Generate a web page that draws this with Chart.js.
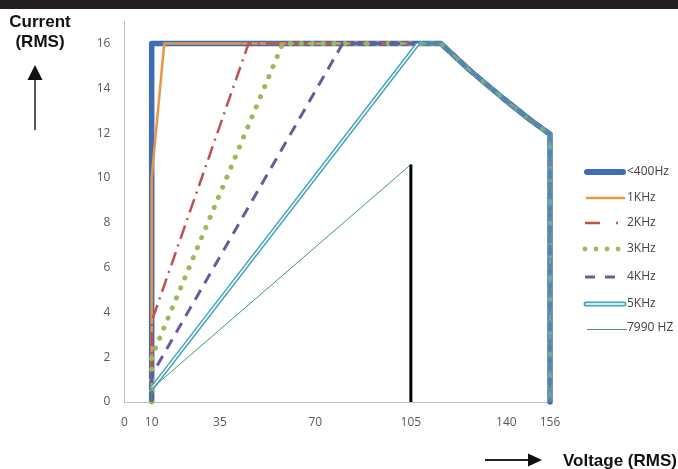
<!DOCTYPE html>
<html>
<head>
<meta charset="utf-8">
<script src="https://cdn.jsdelivr.net/npm/chart.js@4.4.1/dist/chart.umd.min.js"></script>
<style>
  html, body { margin: 0; padding: 0; background: #fff; }
  #wrap { width: 678px; height: 469px; position: relative; }
</style>
</head>
<body>
<div id="wrap"><canvas id="vcChart"></canvas></div>
<script>
// axis ticks
const voltTicks = [0, 10, 35, 70, 105, 140, 156];
const currTicks = [0, 2, 4, 6, 8, 10, 12, 14, 16];

// shared limit envelope (flat top end, power curve, drop at 156 V)
const envV = [116, 126.7, 138.9, 148.7, 156, 156];
const envI = [16, 14.8, 13.55, 12.6, 11.95, 0];

// rising part of each curve (voltage, current)
const hz400V = [10, 10];
const hz400I = [0, 16];
const k1V = [10, 10, 14.6];
const k1I = [0, 10, 16];
const k2V = [10, 10, 45.5];
const k2I = [0, 3.6, 16];
const k3V = [10, 10, 58];
const k3I = [0, 2, 16];
const k4V = [10, 10, 80];
const k4I = [0, 1.2, 16];
const k5V = [10, 107.6];
const k5I = [0.6, 16];
const hz7990V = [10, 10, 105];
const hz7990I = [0, 0.6, 10.6];
const limitV = [105, 105];
const limitI = [10.6, 0];

const seriesNames = ['<400Hz', '1KHz', '2KHz', '3KHz', '4KHz', '5KHz', '7990 HZ'];

function path(v, c) {
    return v.map((x, k) => ({ x: x, y: c[k] }));
}
function withEnv(v, c) {
    return path(v, c).concat(path(envV, envI));
}

const BLUE = '#3e6db3', ORANGE = '#e9964b', RED = '#c0504d', GREEN = '#9bbb59',
      PURPLE = '#6a5a9c', CYAN = '#46a5bd', TEAL = '#3d9a6a';

// listed bottom -> top
const sets = [
    { label: seriesNames[0], data: withEnv(hz400V, hz400I), borderColor: BLUE, borderWidth: 5.5, borderJoinStyle: 'round' },
    { label: seriesNames[1], data: withEnv(k1V, k1I), borderColor: ORANGE, borderWidth: 2.5 },
    { label: seriesNames[2], data: withEnv(k2V, k2I), borderColor: RED, borderWidth: 2.5, borderDash: [14, 6, 2, 6] },
    { label: seriesNames[3], data: withEnv(k3V, k3I), borderColor: GREEN, borderWidth: 5, borderDash: [0.1, 10.8], borderCapStyle: 'round' },
    { label: seriesNames[4], data: withEnv(k4V, k4I), borderColor: PURPLE, borderWidth: 3, borderDash: [11, 8] },
    { label: seriesNames[5], data: withEnv(k5V, k5I), borderColor: CYAN, borderWidth: 4.5,
      segment: { borderColor: ctx => ctx.p0DataIndex >= 1 ? 'rgba(70,165,189,0.55)' : CYAN } },
    { label: '5KHz inner', data: path(k5V, k5I), borderColor: '#ffffff', borderWidth: 1.5 },
    { label: seriesNames[6], data: path(hz7990V, hz7990I), borderColor: TEAL, borderWidth: 1 },
    { label: 'limit', data: path(limitV, limitI), borderColor: '#000000', borderWidth: 3 }
];
sets.forEach((s, i) => {
    s.showLine = true;
    s.pointRadius = 0;
    s.pointHoverRadius = 0;
    s.clip = false;
    s.fill = false;
    s.order = sets.length - i;
});

const decorPlugin = {
    id: 'decor',
    beforeDraw(chart) {
        const ctx = chart.ctx;
        ctx.save();
        ctx.fillStyle = '#231f20';
        ctx.fillRect(0, 0, chart.width, 9);
        ctx.restore();
    },
    afterDraw(chart) {
        const ctx = chart.ctx;
        ctx.save();
        // axis titles
        ctx.fillStyle = '#111';
        ctx.font = 'bold 17px "Liberation Sans", Arial, sans-serif';
        ctx.textAlign = 'center';
        ctx.textBaseline = 'alphabetic';
        ctx.fillText('Current', 40, 27);
        ctx.fillText('(RMS)', 40, 47);
        ctx.textAlign = 'left';
        ctx.fillText('Voltage (RMS)', 563, 466);

        // up arrow
        ctx.strokeStyle = '#222';
        ctx.fillStyle = '#111';
        ctx.lineWidth = 1.5;
        ctx.beginPath(); ctx.moveTo(35, 130); ctx.lineTo(35, 79); ctx.stroke();
        ctx.beginPath(); ctx.moveTo(35, 65); ctx.lineTo(42.5, 80); ctx.lineTo(27.5, 80); ctx.closePath(); ctx.fill();
        // right arrow
        ctx.lineWidth = 2;
        ctx.beginPath(); ctx.moveTo(485, 460); ctx.lineTo(530, 460); ctx.stroke();
        ctx.beginPath(); ctx.moveTo(542, 460); ctx.lineTo(528, 453.5); ctx.lineTo(528, 466.5); ctx.closePath(); ctx.fill();

        // legend
        const rows = [172, 198, 223, 249, 277, 304, 328];
        const x0 = 585, x1 = 625;
        ctx.lineCap = 'butt';
        rows.forEach((y, i) => {
            ctx.save();
            ctx.setLineDash([]);
            if (i === 0) {
                ctx.strokeStyle = BLUE; ctx.lineWidth = 6; ctx.lineCap = 'round';
                ctx.beginPath(); ctx.moveTo(x0 + 2, y); ctx.lineTo(x1 - 2, y); ctx.stroke();
            } else if (i === 1) {
                ctx.strokeStyle = ORANGE; ctx.lineWidth = 2.5;
                ctx.beginPath(); ctx.moveTo(x0 + 1, y); ctx.lineTo(x1, y); ctx.stroke();
            } else if (i === 2) {
                ctx.strokeStyle = RED; ctx.lineWidth = 2.5;
                ctx.beginPath(); ctx.moveTo(x0, y); ctx.lineTo(x0 + 15, y); ctx.stroke();
                ctx.beginPath(); ctx.moveTo(x0 + 31, y); ctx.lineTo(x0 + 33, y); ctx.stroke();
            } else if (i === 3) {
                ctx.fillStyle = GREEN;
                [585, 596, 607, 618].forEach(cx => {
                    ctx.beginPath(); ctx.arc(cx, y, 2.4, 0, Math.PI * 2); ctx.fill();
                });
            } else if (i === 4) {
                ctx.strokeStyle = PURPLE; ctx.lineWidth = 3;
                ctx.beginPath(); ctx.moveTo(x0, y); ctx.lineTo(x0 + 10, y); ctx.stroke();
                ctx.beginPath(); ctx.moveTo(x0 + 20, y); ctx.lineTo(x0 + 30, y); ctx.stroke();
            } else if (i === 5) {
                ctx.strokeStyle = CYAN; ctx.lineWidth = 5; ctx.lineCap = 'round';
                ctx.beginPath(); ctx.moveTo(x0 + 1, y); ctx.lineTo(x1 - 1, y); ctx.stroke();
                ctx.strokeStyle = '#fff'; ctx.lineWidth = 1.5;
                ctx.beginPath(); ctx.moveTo(x0 + 1, y); ctx.lineTo(x1 - 1, y); ctx.stroke();
            } else {
                ctx.strokeStyle = TEAL; ctx.lineWidth = 1;
                ctx.beginPath(); ctx.moveTo(x0 + 2, y + 1.5); ctx.lineTo(x1 + 2, y + 1.5); ctx.stroke();
            }
            ctx.restore();
            ctx.fillStyle = '#404040';
            ctx.font = '12px "Open Sans", sans-serif';
            ctx.textAlign = 'left';
            ctx.textBaseline = 'middle';
            ctx.fillText(seriesNames[i], 627, y);
        });
        ctx.restore();
    }
};

const tickFont = { family: 'Open Sans', size: 12 };

new Chart(document.getElementById('vcChart').getContext('2d'), {
    type: 'scatter',
    data: { datasets: sets },
    options: {
        responsive: true,
        maintainAspectRatio: false,
        animation: false,
        events: [],
        layout: { padding: { top: 19.5, right: 128, left: 0, bottom: 0 } },
        plugins: {
            legend: { display: false },
            tooltip: { enabled: false }
        },
        scales: {
            x: {
                type: 'linear',
                min: 0,
                max: 156,
                afterBuildTicks: s => { s.ticks = voltTicks.map(v => ({ value: v })); },
                afterFit: s => { s.height = 67; },
                grid: { display: false, drawTicks: false },
                border: { color: '#bfbfbf', width: 1 },
                ticks: { padding: 13, color: '#595959', font: tickFont, autoSkip: false, maxRotation: 0 }
            },
            y: {
                type: 'linear',
                min: 0,
                max: 17,
                afterBuildTicks: s => { s.ticks = currTicks.map(v => ({ value: v })); },
                afterFit: s => { s.width = 124.4; },
                grid: { display: false, drawTicks: false },
                border: { color: '#bfbfbf', width: 1 },
                ticks: { padding: 14, color: '#595959', font: tickFont }
            }
        }
    },
    plugins: [decorPlugin]
});
</script>
</body>
</html>
